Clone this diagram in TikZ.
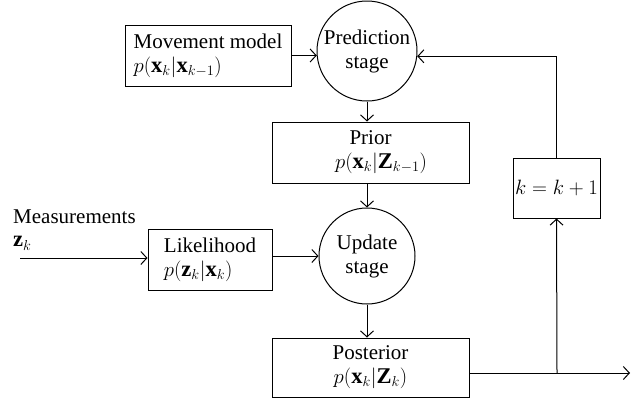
\documentclass[tikz,border=0pt]{standalone}
\usepackage{fontspec}
\setmainfont{Liberation Serif}
\usetikzlibrary{arrows.meta}
\newcommand{\mth}[1]{{\fontsize{22.5}{24}\selectfont$#1$}}
\begin{document}
\begin{tikzpicture}[x=1pt,y=-1pt,
  every node/.style={font=\fontsize{21}{24}\selectfont, inner sep=0pt},
  blk/.style={draw, line width=1pt, rectangle},
  stagec/.style={draw, line width=1pt, circle, minimum size=100pt, align=center},
  conn/.style={line width=1pt, -{Straight Barb[length=6pt,width=13pt,line width=1pt]}},
  wire/.style={line width=1pt}]
\useasboundingbox (0,0) rectangle (636,402);
\node[blk, minimum width=166pt, minimum height=61pt, align=left] (mov) at (208,55.5)
  {Movement model\\\mth{p(\mathbf{x}_k|\mathbf{x}_{k-1})}};
\node[stagec] (pred) at (367,51) {Prediction\\stage};
\node[blk, minimum width=197pt, minimum height=61pt, align=center] (prior) at (370.5,152.5)
  {Prior\\\quad\mth{p(\mathbf{x}_k|\mathbf{Z}_{k-1})}};
\node[blk, minimum width=87pt, minimum height=60pt] (kbox) at (556.5,188) {\mth{k=k+1}};
\node[blk, minimum width=124pt, minimum height=61pt, align=left] (lik) at (210,259.5)
  {Likelihood\\\mth{p(\mathbf{z}_k|\mathbf{x}_k)}};
\node[stagec, minimum size=96pt] (upd) at (367,256) {Update\\stage};
\node[blk, minimum width=197pt, minimum height=59pt, align=center] (post) at (370.5,367.5)
  {Posterior\\\mth{p(\mathbf{x}_k|\mathbf{Z}_k)}};
\node[anchor=north west, align=left] (meas) at (13,210) {Measurements\\[-1pt]\mth{\mathbf{z}_k}};
\coordinate (min) at (20,258);
\coordinate (out) at (630,373);
\coordinate (junc) at (557,373);
\draw[conn] (mov.east) -- (mov.east -| pred.186);
\draw[conn] (pred.south) -- (pred.south |- prior.north);
\draw[conn] (prior.south -| upd.north) -- (upd.north);
\draw[conn] (min) -- (min -| lik.west);
\draw[conn] (lik.east |- upd.west) -- (upd.west);
\draw[conn] (upd.south) -- (upd.south |- post.north);
\draw[conn] (post.east |- out) -- (out);
\draw[conn] (junc) -- (kbox.south);
\draw[conn] (kbox.north) |- (pred.354);
\end{tikzpicture}
\end{document}
